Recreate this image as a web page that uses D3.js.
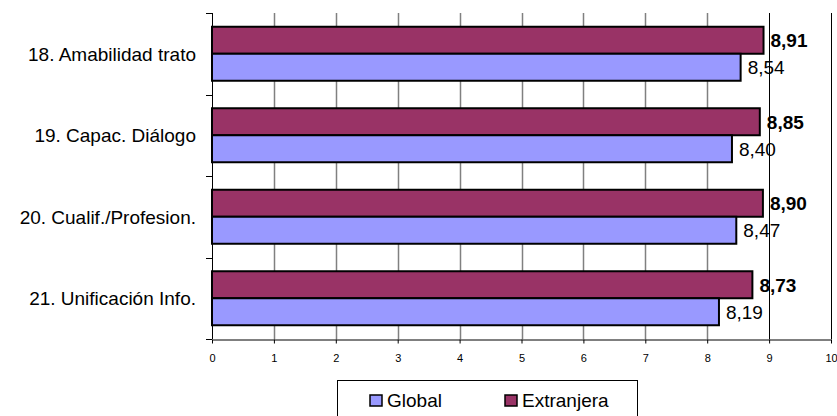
<!DOCTYPE html>
<html>
<head>
<meta charset="utf-8">
<script src="https://cdn.jsdelivr.net/npm/d3@7"></script>
<style>
  html, body { margin: 0; padding: 0; background: #fff; }
  svg { display: block; font-family: "Liberation Sans", Arial, sans-serif; }
</style>
</head>
<body>
<svg id="chart" width="837" height="416"></svg>
<script>
const categories = ["18. Amabilidad trato", "19. Capac. Diálogo", "20. Cualif./Profesion.", "21. Unificación Info."];
const seriesNames = ["Global", "Extranjera"];
const globalValues = [8.54, 8.40, 8.47, 8.19];
const extranjeraValues = [8.91, 8.85, 8.90, 8.73];
const xTicks = [0, 1, 2, 3, 4, 5, 6, 7, 8, 9, 10];
const colors = { "Global": "#9999FF", "Extranjera": "#993366" };

(function () {
const svg = d3.select("#chart");
const pLeft = 212, pRight = 831, pTop = 13, pBottom = 339;

const x = d3.scaleLinear().domain([0, 10]).range([pLeft, pRight]);
const y = d3.scaleBand().domain(categories).range([pTop, pBottom]).padding(0);
const bw = y.bandwidth();
const pairH = 54;
const ySub = d3.scaleBand().domain(["Extranjera", "Global"])
  .range([(bw - pairH) / 2, (bw + pairH) / 2]).padding(0);

const fmt = v => d3.format(".2f")(v).replace(".", ",");

// gridlines
svg.append("g").selectAll("line").data(xTicks.slice(1)).join("line")
  .attr("x1", d => Math.round(x(d)) + 0.5).attr("x2", d => Math.round(x(d)) + 0.5)
  .attr("y1", pTop).attr("y2", pBottom)
  .attr("stroke", d => d >= 9 ? "#000" : "#808080")
  .attr("stroke-width", d => d >= 9 ? 1 : 1.5);

const rows = categories.map((c, i) => ({ cat: c, Global: globalValues[i], Extranjera: extranjeraValues[i] }));

const g = svg.append("g");
rows.forEach(r => {
  ["Extranjera", "Global"].forEach(s => {
    const y0 = y(r.cat) + ySub(s);
    g.append("rect")
      .attr("x", x(0)).attr("y", y0)
      .attr("width", x(r[s]) - x(0)).attr("height", ySub.bandwidth())
      .attr("fill", colors[s]).attr("stroke", "#000").attr("stroke-width", 2);
    g.append("text")
      .attr("x", x(r[s]) + 7).attr("y", y0 + ySub.bandwidth() / 2)
      .attr("dy", "0.36em")
      .attr("font-size", 19)
      .attr("font-weight", s === "Extranjera" ? "bold" : "normal")
      .attr("fill", "#000")
      .text(fmt(r[s]));
  });
});

// y axis
const yAxisG = svg.append("g");
yAxisG.append("line").attr("x1", pLeft + 0.5).attr("x2", pLeft + 0.5).attr("y1", pTop).attr("y2", pBottom).attr("stroke", "#000");
const bounds = categories.map(c => y(c)).concat([pBottom]);
yAxisG.selectAll("line.tk").data(bounds).join("line").attr("class", "tk")
  .attr("x1", pLeft - 6).attr("x2", pLeft)
  .attr("y1", d => Math.round(d) + 0.5).attr("y2", d => Math.round(d) + 0.5)
  .attr("stroke", "#000");
yAxisG.selectAll("text").data(categories).join("text")
  .attr("x", 196).attr("y", d => y(d) + bw / 2).attr("dy", "0.36em")
  .attr("text-anchor", "end").attr("font-size", 19).attr("fill", "#000")
  .text(d => d);

// x axis
const xAxisG = svg.append("g").attr("transform", `translate(0,${pBottom + 0.5})`);
const xAxis = d3.axisBottom(x).tickValues(xTicks).tickSize(4).tickSizeOuter(0).tickFormat(d3.format("d"));
xAxisG.call(xAxis);
xAxisG.select(".domain").attr("stroke", "#000");
xAxisG.selectAll(".tick line").attr("stroke", "#000");
xAxisG.selectAll(".tick text").attr("font-size", 11).attr("font-family", "'Liberation Sans', Arial, sans-serif")
  .attr("fill", "#000").attr("dy", "1.45em");

// legend
const lg = svg.append("g");
lg.append("rect").attr("x", 337.5).attr("y", 380.5).attr("width", 300).attr("height", 60)
  .attr("fill", "#fff").attr("stroke", "#000").attr("stroke-width", 1);
const legendX = [370, 505];
seriesNames.forEach((s, i) => {
  lg.append("rect").attr("x", legendX[i]).attr("y", 395).attr("width", 12).attr("height", 11)
    .attr("fill", colors[s]).attr("stroke", "#000").attr("stroke-width", 1.5);
  lg.append("text").attr("x", legendX[i] + 17).attr("y", 407)
    .attr("font-size", 19).attr("fill", "#000").text(s);
});
})();
</script>
</body>
</html>
